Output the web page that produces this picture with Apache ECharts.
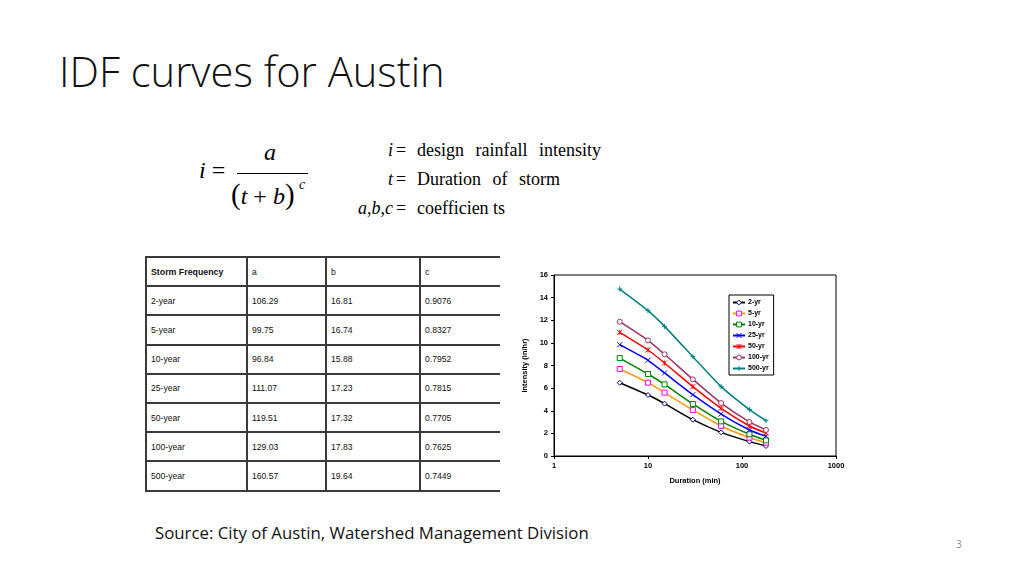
<!DOCTYPE html>
<html>
<head>
<meta charset="utf-8">
<script src="https://cdn.jsdelivr.net/npm/echarts@6/dist/echarts.min.js"></script>
<style>
  html, body { margin: 0; padding: 0; background: #fff; }
  #slide { position: relative; width: 1024px; height: 576px; overflow: hidden; background: #fff; }
  .title { position: absolute; left: 59px; top: 42px; font-family: "Open Sans", sans-serif; font-weight: 300;
           font-size: 41.7px; color: #111; white-space: nowrap; }
  .serif { position: absolute; font-family: "Liberation Serif", "Times New Roman", serif; color: #000; white-space: nowrap; }
  .tbl-wrap { position: absolute; left: 145px; top: 256px; width: 355px; height: 240px; overflow: hidden; }
  table { border-collapse: collapse; table-layout: fixed; width: 460px; font-family: "Liberation Sans", Arial, sans-serif; font-size: 8.6px; color: #111; }
  td { border: 2px solid #3a3a3a; height: 29.2px; padding: 0 0 0 4px; vertical-align: middle; box-sizing: border-box; }
  td.h { font-weight: bold; font-size: 8.8px; }
  .source { position: absolute; left: 155px; top: 521px; font-family: "Open Sans", sans-serif; font-size: 16.8px; color: #111; white-space: nowrap; }
  .pnum { position: absolute; left: 956px; top: 537px; font-family: "Open Sans", sans-serif; font-size: 10px; color: #888; }
  #chart { position: absolute; left: 510px; top: 262px; width: 350px; height: 230px; }
</style>
</head>
<body>
<div id="slide">
  <div class="title">IDF curves for Austin</div>

  <!-- formula i = a / (t+b)^c -->
  <div class="serif" style="left:199px;top:157px;font-size:24px;"><i>i</i> =</div>
  <div class="serif" style="left:264px;top:139px;font-size:24px;"><i>a</i></div>
  <div style="position:absolute;left:237px;top:173px;width:71px;height:1px;background:#000;"></div>
  <div class="serif" style="left:231px;top:178px;font-size:24px;"><span style="font-size:29px;">(</span><i>t</i> + <i>b</i><span style="font-size:29px;">)</span></div>
  <div class="serif" style="left:299px;top:177px;font-size:14px;"><i>c</i></div>

  <div class="serif" style="left:292px;top:140px;width:101px;text-align:right;font-size:18px;"><i>i</i></div>
  <div class="serif" style="left:396px;top:140px;font-size:18px;">=</div>
  <div class="serif" style="left:417px;top:140px;font-size:18px;word-spacing:7px;">design rainfall intensity</div>
  <div class="serif" style="left:292px;top:169px;width:101px;text-align:right;font-size:18px;"><i>t</i></div>
  <div class="serif" style="left:396px;top:169px;font-size:18px;">=</div>
  <div class="serif" style="left:417px;top:169px;font-size:18px;word-spacing:7px;">Duration of storm</div>
  <div class="serif" style="left:292px;top:198px;width:101px;text-align:right;font-size:18px;"><i>a</i>,<i>b</i>,<i>c</i></div>
  <div class="serif" style="left:396px;top:198px;font-size:18px;">=</div>
  <div class="serif" style="left:417px;top:198px;font-size:18px;">coefficien ts</div>

  <div class="tbl-wrap"><table id="coef"></table></div>
  <div id="chart"></div>

  <div class="source">Source: City of Austin, Watershed Management Division</div>
  <div class="pnum">3</div>
</div>
<script>
// coefficient table
var tblHead = ['Storm Frequency', 'a', 'b', 'c'];
var freqNames = ['2-year', '5-year', '10-year', '25-year', '50-year', '100-year', '500-year'];
var coefA = ['106.29', '99.75', '96.84', '111.07', '119.51', '129.03', '160.57'];
var coefB = ['16.81', '16.74', '15.88', '17.23', '17.32', '17.83', '19.64'];
var coefC = ['0.9076', '0.8327', '0.7952', '0.7815', '0.7705', '0.7625', '0.7449'];

// chart data
var duration = [5, 10, 15, 30, 60, 120, 180];
var yr2   = [6.48, 5.39, 4.63, 3.21, 2.09, 1.27, 0.88];
var yr5   = [7.69, 6.48, 5.60, 4.07, 2.65, 1.62, 1.18];
var yr10  = [8.66, 7.25, 6.33, 4.60, 3.06, 1.92, 1.38];
var yr25  = [9.84, 8.46, 7.34, 5.42, 3.71, 2.30, 1.74];
var yr50  = [10.93, 9.37, 8.22, 6.13, 4.21, 2.65, 2.03];
var yr100 = [11.87, 10.22, 8.99, 6.78, 4.68, 3.01, 2.30];
var yr500 = [14.76, 12.85, 11.46, 8.78, 6.13, 4.10, 3.12];
var xTicks = [1, 10, 100, 1000];

// build table (only the first header cell is bold)
var colW = [101, 79, 94, 186];
var html = '<colgroup>';
for (var j = 0; j < colW.length; j++) {
    html += '<col style="width:' + colW[j] + 'px">';
}
html += '</colgroup><tr>';
for (var j = 0; j < tblHead.length; j++) {
    html += '<td' + (j == 0 ? ' class="h"' : '') + '>' + tblHead[j] + '</td>';
}
html += '</tr>';
for (var i = 0; i < freqNames.length; i++) {
    html += '<tr><td>' + freqNames[i] + '</td><td>' + coefA[i] + '</td><td>' + coefB[i] + '</td><td>' + coefC[i] + '</td></tr>';
}
document.getElementById('coef').innerHTML = html;

var xMark = 'path://M0,0L10,10M10,0L0,10';
var starMark = 'path://M0,0L10,10M10,0L0,10M5,0L5,10';
var plusMark = 'path://M5,0L5,10M0,5L10,5';

function pairs(vals) {
    var out = [];
    for (var k = 0; k < duration.length; k++) {
        out.push([duration[k], vals[k]]);
    }
    return out;
}

function make_series(name, vals, lineColor, markColor, symbol, hollow) {
    return {
        name: name,
        type: 'line',
        data: pairs(vals),
        smooth: 0.2,
        symbol: symbol,
        symbolSize: 5,
        showAllSymbol: true,
        lineStyle: { color: lineColor, width: 1.5 },
        itemStyle: {
            color: hollow ? '#fff' : markColor,
            borderColor: markColor,
            borderWidth: 1
        },
        emphasis: { disabled: true }
    };
}

var myChart = echarts.init(document.getElementById('chart'));
var axisFont = { fontFamily: 'Liberation Sans, Arial, sans-serif', fontWeight: 'bold', fontSize: 7.5, color: '#000' };

var option = {
    animation: false,
    grid: { left: 44, top: 13, right: 24, bottom: 36, show: true, borderColor: '#000', borderWidth: 1 },
    legend: {
        orient: 'vertical',
        left: 219, top: 33,
        itemWidth: 12, itemHeight: 6, itemGap: 4,
        padding: [4, 5, 3, 3],
        borderColor: '#000', borderWidth: 1,
        backgroundColor: '#fff',
        itemStyle: { color: '#fff', borderWidth: 1 },
        textStyle: { fontFamily: 'Liberation Sans, Arial, sans-serif', fontWeight: 'bold', fontSize: 7, color: '#000', padding: [0, 0, 0, -2] },
        data: ['2-yr', '5-yr', '10-yr', '25-yr', '50-yr', '100-yr', '500-yr']
    },
    xAxis: {
        type: 'log', logBase: 10, min: xTicks[0], max: xTicks[xTicks.length - 1],
        name: 'Duration (min)', nameLocation: 'middle', nameGap: 21,
        nameTextStyle: axisFont,
        axisLine: { lineStyle: { color: '#000', width: 1 } },
        axisTick: { show: true, length: 3, lineStyle: { color: '#000' } },
        minorTick: { show: false },
        splitLine: { show: false },
        axisLabel: Object.assign({ margin: 6, formatter: function (v) { return String(v); } }, axisFont)
    },
    yAxis: {
        type: 'value', min: 0, max: 16, interval: 2,
        name: 'Intensity (in/hr)', nameLocation: 'middle', nameGap: 15,
        nameTextStyle: axisFont,
        axisLine: { show: true, lineStyle: { color: '#000', width: 1 } },
        axisTick: { show: true, length: 3, lineStyle: { color: '#000' } },
        splitLine: { show: false },
        axisLabel: Object.assign({ margin: 6 }, axisFont)
    },
    series: [
        make_series('2-yr', yr2, '#000000', '#000080', 'diamond', true),
        make_series('5-yr', yr5, '#ff9900', '#ff00ff', 'rect', true),
        make_series('10-yr', yr10, '#008000', '#008000', 'rect', true),
        make_series('25-yr', yr25, '#0000ff', '#0000ff', xMark, false),
        make_series('50-yr', yr50, '#ff0000', '#ff0000', starMark, false),
        make_series('100-yr', yr100, '#993366', '#993366', 'circle', true),
        make_series('500-yr', yr500, '#008080', '#008080', plusMark, false)
    ]
};

myChart.setOption(option);
</script>
</body>
</html>
